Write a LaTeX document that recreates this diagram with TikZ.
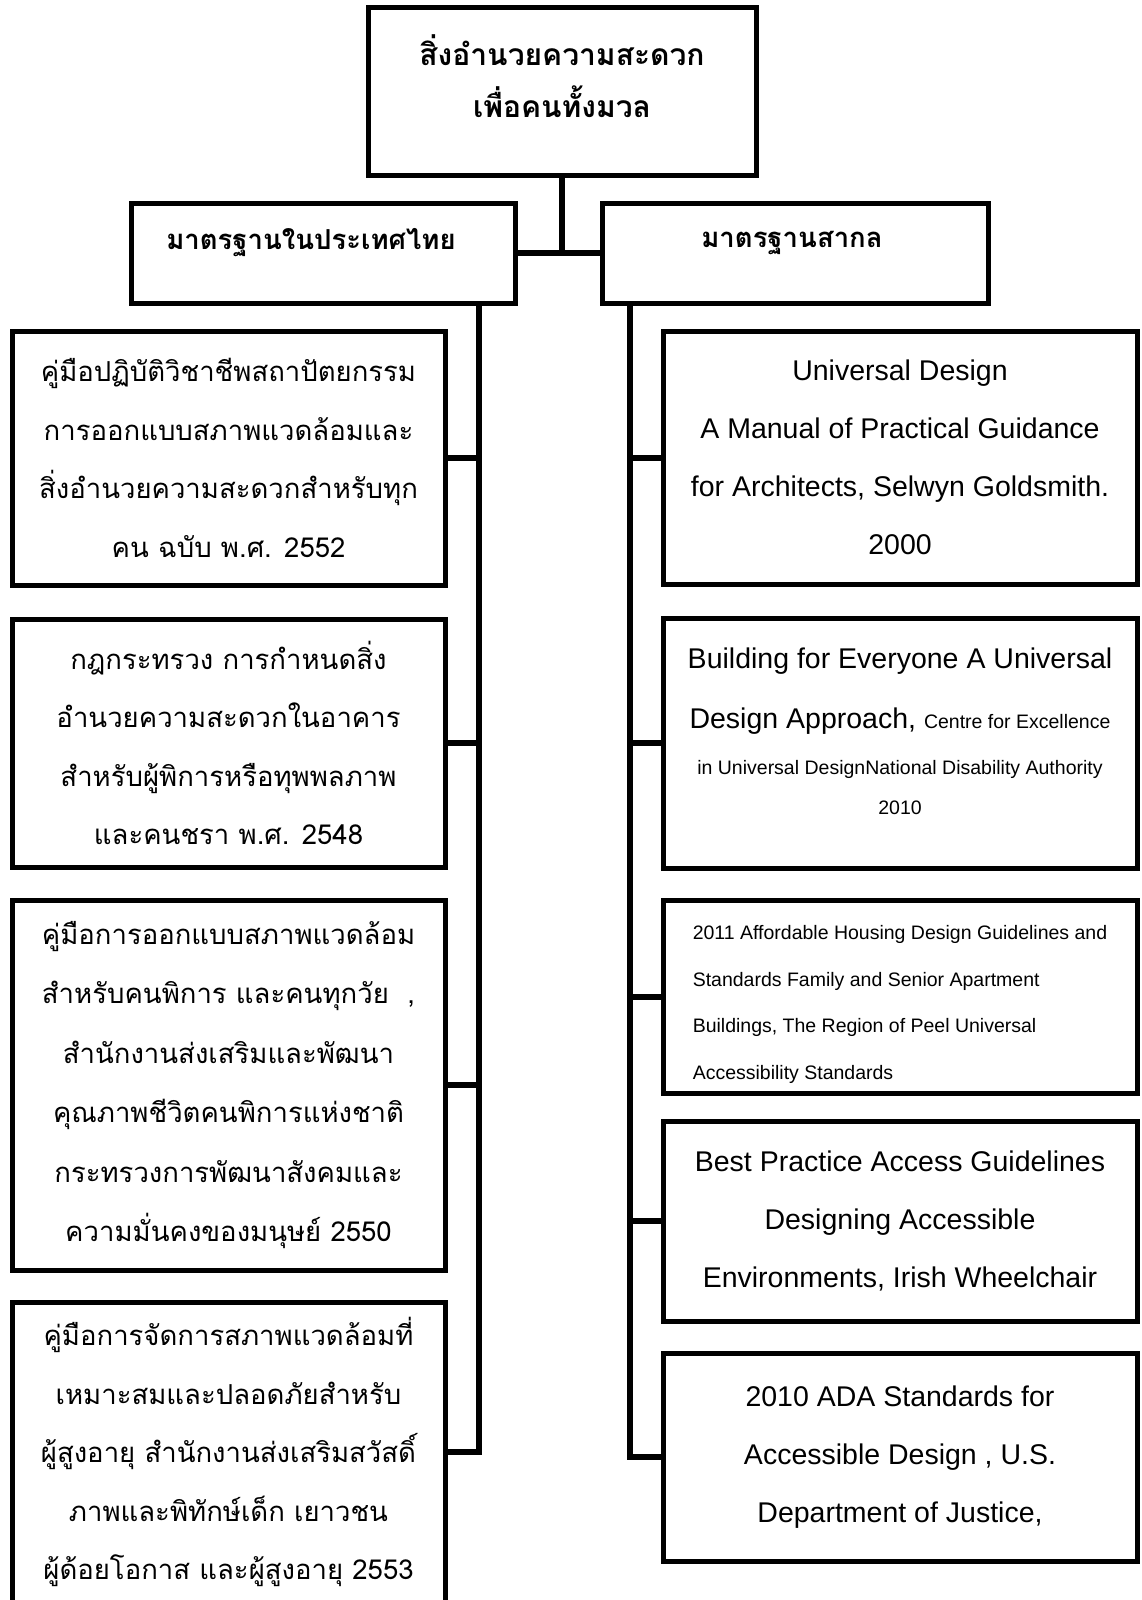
\documentclass[tikz,border=0pt]{standalone}
\usepackage{fontspec}
\setmainfont{Liberation Sans}
\newfontfamily\thaifont[Script=Thai]{Loma}
\usetikzlibrary{positioning}

\begin{document}
\begin{tikzpicture}[x=1pt,y=-1pt,
  box/.style={draw,line width=5pt,outer sep=0pt,inner sep=0pt,align=center},
  link/.style={line width=6pt},
  titletext/.style={font=\thaifont\bfseries\fontsize{30}{52}\selectfont},
  headtext/.style={font=\thaifont\bfseries\fontsize{27.5}{53}\selectfont},
  thtext/.style={font=\thaifont\fontsize{27.5}{58.5}\selectfont},
  entext/.style={font=\fontsize{28.5}{58}\selectfont},
  smalltext/.style={font=\fontsize{19.5}{46.5}\selectfont}]
\useasboundingbox (0,0) rectangle (1141,1600);
\fill[white] (0,0) rectangle (1141,1600);
\clip (0,0) rectangle (1141,1600);

\node[box,minimum width=388pt,minimum height=167pt] (top) at (562,91.5) {};
\node[titletext,align=center] (toplabel) at (562,76) {สิ่งอำนวยความสะดวก\\เพื่อคนทั้งมวล};
\node[box,minimum width=384pt,minimum height=100pt] (thhead) at (323,253) {};
\node[headtext] (thheadlabel) at (311,243) {มาตรฐานในประเทศไทย};
\node[box,minimum width=386pt,minimum height=100pt] (inthead) at (795,253) {};
\node[headtext] (intheadlabel) at (792,243) {มาตรฐานสากล};

\node[box,thtext,minimum width=433pt,minimum height=254pt] (th1) at (228.5,458)
  {คู่มือปฏิบัติวิชาชีพสถาปัตยกรรม\\การออกแบบสภาพแวดล้อมและ\\สิ่งอำนวยความสะดวกสำหรับทุก\\คน ฉบับ พ.ศ. 2552};
\node[box,thtext,minimum width=433pt,minimum height=248pt,below=34pt of th1] (th2)
  {กฎกระทรวง การกำหนดสิ่ง\\อำนวยความสะดวกในอาคาร\\สำหรับผู้พิการหรือทุพพลภาพ\\และคนชรา พ.ศ. 2548};
\node[box,thtext,font=\thaifont\fontsize{27.5}{59.5}\selectfont,minimum width=433pt,minimum height=370pt,below=33pt of th2] (th3)
  {คู่มือการออกแบบสภาพแวดล้อม\\สำหรับคนพิการ และคนทุกวัย\ \ ,\\สำนักงานส่งเสริมและพัฒนา\\คุณภาพชีวิตคนพิการแห่งชาติ\\กระทรวงการพัฒนาสังคมและ\\ความมั่นคงของมนุษย์ 2550};
\node[box,thtext,minimum width=433pt,minimum height=300pt,below=32pt of th3] (th4)
  {คู่มือการจัดการสภาพแวดล้อมที่\\เหมาะสมและปลอดภัยสำหรับ\\ผู้สูงอายุ สำนักงานส่งเสริมสวัสดิ์\\ภาพและพิทักษ์เด็ก เยาวชน\\ผู้ด้อยโอกาส และผู้สูงอายุ 2553};

\node[box,entext,minimum width=474pt,minimum height=253pt] (in1) at (900,457.5)
  {Universal Design\\A Manual of Practical Guidance\\for Architects, Selwyn Goldsmith.\\2000};
\node[box,font=\fontsize{28.5}{60}\selectfont,minimum width=474pt,minimum height=250pt,below=34pt of in1] (in2)
  {Building for Everyone A Universal\\
   Design Approach, {\fontsize{19.5}{24}\selectfont Centre for Excellence}\\[-14pt]
   {\fontsize{19.5}{24}\selectfont in Universal DesignNational Disability Authority}\\[-20pt]
   {\fontsize{19.5}{24}\selectfont 2010}\\[-36pt]\mbox{}};
\node[box,smalltext,align=left,minimum width=474pt,minimum height=193pt,below=32pt of in2] (in3)
  {\mbox{}\\[-16.5pt]2011 Affordable Housing Design Guidelines and\\Standards Family and Senior Apartment\\Buildings, The Region of Peel Universal\\Accessibility Standards};
\node[box,entext,minimum width=474pt,minimum height=200pt,below=28pt of in3] (in4)
  {Best Practice Access Guidelines\\Designing Accessible\\Environments, Irish Wheelchair};
\node[box,entext,minimum width=474pt,minimum height=208pt,below=32pt of in4] (in5)
  {2010 ADA Standards for\\Accessible Design , U.S.\\Department of Justice,};

\coordinate (lspine) at (479,303);
\coordinate (rspine) at (630,303);
\draw[link] (top.south) -- (top.south |- thhead.east);
\draw[link] (thhead.east) -- (inthead.west);
\draw[link] (lspine) |- (th4.east);
\foreach \n in {th1,th2,th3}
  \draw[link] (\n.east) -- (\n.east -| lspine);
\draw[link] (rspine) |- (in5.west);
\foreach \n in {in1,in2,in3,in4}
  \draw[link] (\n.west) -- (\n.west -| rspine);
\end{tikzpicture}
\end{document}
